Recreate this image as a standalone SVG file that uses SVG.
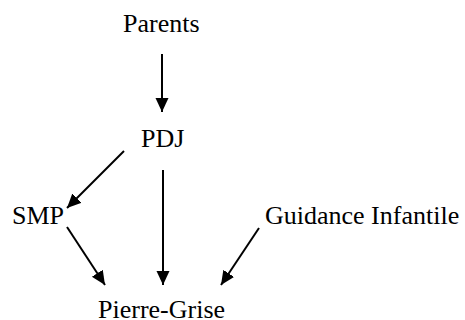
<svg xmlns="http://www.w3.org/2000/svg" width="465" height="320" viewBox="0 0 465 320">
<style>
text{font-family:"Liberation Serif","Times New Roman",serif;font-size:26px;fill:#000}
.c line{stroke:#000;stroke-width:2;fill:none}
</style>
<defs>
<marker id="ah" markerUnits="userSpaceOnUse" markerWidth="16" markerHeight="14" refX="14" refY="6.5" orient="auto">
<path d="M0,0 L14,6.5 L0,13 Z" fill="#000"/>
</marker>
</defs>
<rect width="465" height="320" fill="#fff"/>
<g id="parents"><text x="123" y="32">Parents</text></g>
<g id="pdj"><text x="141" y="147">PDJ</text></g>
<g id="smp"><text x="12" y="224">SMP</text></g>
<g id="guidance"><text x="265" y="224">Guidance Infantile</text></g>
<g id="pierre-grise"><text x="98" y="318">Pierre-Grise</text></g>
<g class="c" id="connectors">
<line x1="162" y1="54" x2="162" y2="112" marker-end="url(#ah)"/>
<line x1="124" y1="151" x2="67" y2="208" marker-end="url(#ah)"/>
<line x1="163" y1="170" x2="163" y2="285" marker-end="url(#ah)"/>
<line x1="67" y1="227" x2="105" y2="285" marker-end="url(#ah)"/>
<line x1="259" y1="228" x2="221" y2="285" marker-end="url(#ah)"/>
</g>
</svg>
